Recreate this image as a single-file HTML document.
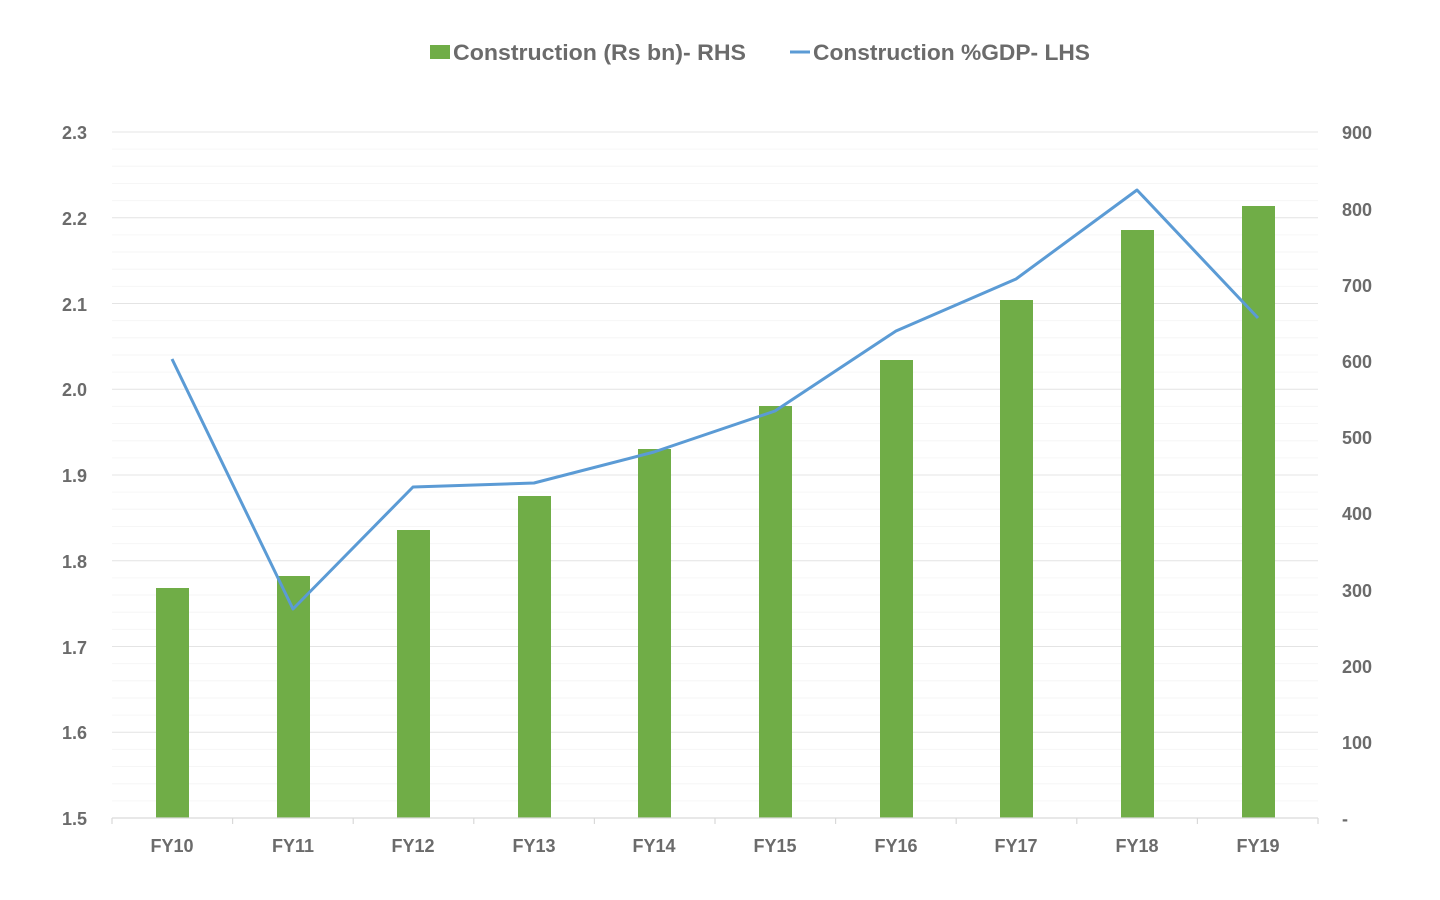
<!DOCTYPE html>
<html><head><meta charset="utf-8"><style>
html,body{margin:0;padding:0;background:#fff;width:1440px;height:900px;overflow:hidden}
text{font-family:"Liberation Sans",sans-serif;fill:#6b6b6b;font-weight:bold}
</style></head><body>
<svg width="1440" height="900" xmlns="http://www.w3.org/2000/svg">
<g stroke="#f6f6f6" stroke-width="1">
<line x1="112" x2="1318" y1="149.15" y2="149.15"/><line x1="112" x2="1318" y1="166.3" y2="166.3"/><line x1="112" x2="1318" y1="183.45" y2="183.45"/><line x1="112" x2="1318" y1="200.6" y2="200.6"/>
<line x1="112" x2="1318" y1="234.9" y2="234.9"/><line x1="112" x2="1318" y1="252.05" y2="252.05"/><line x1="112" x2="1318" y1="269.2" y2="269.2"/><line x1="112" x2="1318" y1="286.35" y2="286.35"/>
<line x1="112" x2="1318" y1="320.65" y2="320.65"/><line x1="112" x2="1318" y1="337.8" y2="337.8"/><line x1="112" x2="1318" y1="354.95" y2="354.95"/><line x1="112" x2="1318" y1="372.1" y2="372.1"/>
<line x1="112" x2="1318" y1="406.4" y2="406.4"/><line x1="112" x2="1318" y1="423.55" y2="423.55"/><line x1="112" x2="1318" y1="440.7" y2="440.7"/><line x1="112" x2="1318" y1="457.85" y2="457.85"/>
<line x1="112" x2="1318" y1="492.15" y2="492.15"/><line x1="112" x2="1318" y1="509.3" y2="509.3"/><line x1="112" x2="1318" y1="526.45" y2="526.45"/><line x1="112" x2="1318" y1="543.6" y2="543.6"/>
<line x1="112" x2="1318" y1="577.9" y2="577.9"/><line x1="112" x2="1318" y1="595.05" y2="595.05"/><line x1="112" x2="1318" y1="612.2" y2="612.2"/><line x1="112" x2="1318" y1="629.35" y2="629.35"/>
<line x1="112" x2="1318" y1="663.65" y2="663.65"/><line x1="112" x2="1318" y1="680.8" y2="680.8"/><line x1="112" x2="1318" y1="697.95" y2="697.95"/><line x1="112" x2="1318" y1="715.1" y2="715.1"/>
<line x1="112" x2="1318" y1="749.4" y2="749.4"/><line x1="112" x2="1318" y1="766.55" y2="766.55"/><line x1="112" x2="1318" y1="783.7" y2="783.7"/><line x1="112" x2="1318" y1="800.85" y2="800.85"/>
</g>
<g stroke="#e4e4e4" stroke-width="1">
<line x1="112" x2="1318" y1="132" y2="132"/><line x1="112" x2="1318" y1="217.75" y2="217.75"/><line x1="112" x2="1318" y1="303.5" y2="303.5"/><line x1="112" x2="1318" y1="389.25" y2="389.25"/><line x1="112" x2="1318" y1="475" y2="475"/><line x1="112" x2="1318" y1="560.75" y2="560.75"/><line x1="112" x2="1318" y1="646.5" y2="646.5"/><line x1="112" x2="1318" y1="732.25" y2="732.25"/>
</g>
<g fill="#70ad47">
<rect x="156" y="588" width="33" height="230"/><rect x="277" y="576" width="33" height="242"/><rect x="397" y="530" width="33" height="288"/><rect x="518" y="496" width="33" height="322"/><rect x="638" y="449" width="33" height="369"/><rect x="759" y="406" width="33" height="412"/><rect x="880" y="360" width="33" height="458"/><rect x="1000" y="300" width="33" height="518"/><rect x="1121" y="230" width="33" height="588"/><rect x="1242" y="206" width="33" height="612"/>
</g>
<g stroke="#d9d9d9" stroke-width="1.2">
<line x1="112" x2="1318" y1="818" y2="818"/>
<line x1="112" x2="112" y1="818" y2="824"/><line x1="232.6" x2="232.6" y1="818" y2="824"/><line x1="353.2" x2="353.2" y1="818" y2="824"/><line x1="473.8" x2="473.8" y1="818" y2="824"/><line x1="594.4" x2="594.4" y1="818" y2="824"/><line x1="715" x2="715" y1="818" y2="824"/><line x1="835.6" x2="835.6" y1="818" y2="824"/><line x1="956.2" x2="956.2" y1="818" y2="824"/><line x1="1076.8" x2="1076.8" y1="818" y2="824"/><line x1="1197.4" x2="1197.4" y1="818" y2="824"/><line x1="1318" x2="1318" y1="818" y2="824"/>
</g>
<polyline fill="none" stroke="#5b9bd5" stroke-width="3" stroke-linejoin="round" points="172,359 293,609 413,487 534,483 654,452 775,411 896,331 1016,279 1137,190 1258,318"/>
<g font-size="18" text-anchor="end">
<text x="87" y="139">2.3</text><text x="87" y="225">2.2</text><text x="87" y="311">2.1</text><text x="87" y="396">2.0</text><text x="87" y="482">1.9</text><text x="87" y="568">1.8</text><text x="87" y="654">1.7</text><text x="87" y="739">1.6</text><text x="87" y="825">1.5</text>
</g>
<g font-size="18" text-anchor="start">
<text x="1342" y="139">900</text><text x="1342" y="216">800</text><text x="1342" y="292">700</text><text x="1342" y="368">600</text><text x="1342" y="444">500</text><text x="1342" y="520">400</text><text x="1342" y="597">300</text><text x="1342" y="673">200</text><text x="1342" y="749">100</text><text x="1342" y="825">-</text>
</g>
<g font-size="18" text-anchor="middle">
<text x="172" y="852">FY10</text><text x="293" y="852">FY11</text><text x="413" y="852">FY12</text><text x="534" y="852">FY13</text><text x="654" y="852">FY14</text><text x="775" y="852">FY15</text><text x="896" y="852">FY16</text><text x="1016" y="852">FY17</text><text x="1137" y="852">FY18</text><text x="1258" y="852">FY19</text>
</g>
<rect x="430" y="45" width="20" height="14" fill="#70ad47"/>
<text x="453" y="60" font-size="22" textLength="293" lengthAdjust="spacingAndGlyphs">Construction (Rs bn)- RHS</text>
<line x1="790" x2="810" y1="52" y2="52" stroke="#5b9bd5" stroke-width="3"/>
<text x="813" y="60" font-size="22" textLength="277" lengthAdjust="spacingAndGlyphs">Construction %GDP- LHS</text>
</svg>
</body></html>
